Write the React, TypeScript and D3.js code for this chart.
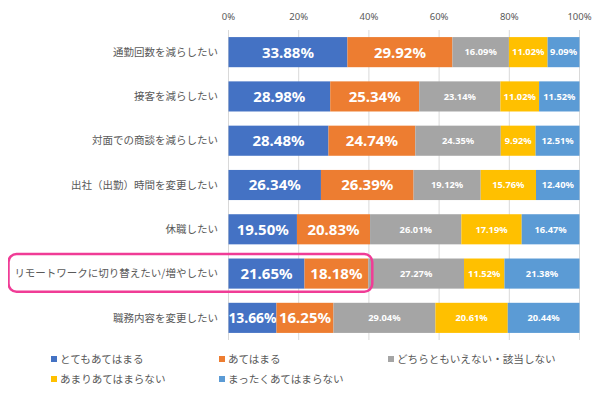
import { useEffect, useRef } from "react";
import * as d3 from "d3";

// categories (top to bottom)
const categories = [
  "通勤回数を減らしたい",
  "接客を減らしたい",
  "対面での商談を減らしたい",
  "出社（出勤）時間を変更したい",
  "休職したい",
  "リモートワークに切り替えたい/増やしたい",
  "職務内容を変更したい",
];

// series names (legend order)
const seriesNames = [
  "とてもあてはまる",
  "あてはまる",
  "どちらともいえない・該当しない",
  "あまりあてはまらない",
  "まったくあてはまらない",
];

// values per series, one per category (%)
const veryTrue = [33.88, 28.98, 28.48, 26.34, 19.5, 21.65, 13.66];
const somewhatTrue = [29.92, 25.34, 24.74, 26.39, 20.83, 18.18, 16.25];
const neither = [16.09, 23.14, 24.35, 19.12, 26.01, 27.27, 29.04];
const notReally = [11.02, 11.02, 9.92, 15.76, 17.19, 11.52, 20.61];
const notAtAll = [9.09, 11.52, 12.51, 12.4, 16.47, 21.38, 20.44];

const tickValues = [0, 20, 40, 60, 80, 100];
const highlighted = "リモートワークに切り替えたい/増やしたい";

const colors = ["#4472C4", "#ED7D31", "#A5A5A5", "#FFC000", "#5B9BD5"];
const FONT = "'Noto Sans', 'Noto Sans CJK JP', sans-serif";
const JP_FONT = "'Noto Sans CJK JP', 'Noto Sans', sans-serif";

export default function App() {
  const ref = useRef<SVGSVGElement | null>(null);

  useEffect(() => {
    if (!ref.current) return;
    const svg = d3.select(ref.current);
    svg.selectAll("*").remove();

    const W = 600;
    const H = 395;
    const x0 = 228.5;
    const x1 = 579.5;
    const yTop = 30;
    const yBottom = 340;

    const series = [veryTrue, somewhatTrue, neither, notReally, notAtAll];
    const rows = categories.map((c, i) => {
      const r: Record<string, any> = { cat: c };
      seriesNames.forEach((s, j) => (r[s] = series[j][i]));
      return r;
    });
    const stacked = d3.stack<any>().keys(seriesNames)(rows);

    const x = d3.scaleLinear().domain([0, 100]).range([x0, x1]);
    const y = d3
      .scaleBand<string>()
      .domain(categories)
      .range([yTop, yBottom])
      .paddingInner(0.32)
      .paddingOuter(0.16);

    svg.append("rect").attr("width", W).attr("height", H).attr("fill", "#fff");

    // gridlines
    svg
      .append("g")
      .selectAll("line")
      .data(tickValues)
      .join("line")
      .attr("x1", (d) => x(d))
      .attr("x2", (d) => x(d))
      .attr("y1", yTop)
      .attr("y2", yBottom)
      .attr("stroke", "#d9d9d9")
      .attr("stroke-width", 1);

    // tick labels on top
    svg
      .append("g")
      .selectAll("text")
      .data(tickValues)
      .join("text")
      .attr("x", (d) => x(d))
      .attr("y", 17)
      .attr("dy", "0.35em")
      .attr("text-anchor", "middle")
      .attr("font-family", FONT)
      .attr("font-size", 9.5)
      .attr("fill", "#595959")
      .text((d) => `${d}%`);

    // bars
    const layers = svg
      .append("g")
      .selectAll("g")
      .data(stacked)
      .join("g")
      .attr("fill", (_, i) => colors[i]);

    layers
      .selectAll("rect")
      .data((d) => d)
      .join("rect")
      .attr("x", (d) => x(d[0]))
      .attr("width", (d) => x(d[1]) - x(d[0]))
      .attr("y", (d) => y(d.data.cat)!)
      .attr("height", y.bandwidth());

    // value labels
    stacked.forEach((layer, i) => {
      const big = i < 2;
      svg
        .append("g")
        .selectAll("text")
        .data(layer)
        .join("text")
        .attr("x", (d) => (x(d[0]) + x(d[1])) / 2)
        .attr("y", (d) => y(d.data.cat)! + y.bandwidth() / 2)
        .attr("dy", "0.36em")
        .attr("text-anchor", "middle")
        .attr("font-family", FONT)
        .attr("font-weight", "bold")
        .attr("font-size", (d) => {
          if (!big) return 9.3;
          const w = x(d[1]) - x(d[0]);
          return Math.min(15, w / 3.45);
        })
        .attr("fill", "#fff")
        .text((d) => `${(d[1] - d[0]).toFixed(2)}%`);
    });

    // category labels
    svg
      .append("g")
      .selectAll("text")
      .data(categories)
      .join("text")
      .attr("x", 218)
      .attr("y", (d) => y(d)! + y.bandwidth() / 2)
      .attr("dy", "0.35em")
      .attr("text-anchor", "end")
      .attr("font-family", JP_FONT)
      .attr("font-size", 10.5)
      .attr("fill", "#595959")
      .text((d) => d);

    // highlight box around the remote-work row
    const hi = categories.indexOf(highlighted);
    const hiEnd = veryTrue[hi] + somewhatTrue[hi];
    svg
      .append("rect")
      .attr("x", 8.5)
      .attr("y", y(highlighted)! - 4.5)
      .attr("width", x(hiEnd) + 4 - 8.5)
      .attr("height", y.bandwidth() + 7.5)
      .attr("rx", 8)
      .attr("fill", "none")
      .attr("stroke", "#F03C96")
      .attr("stroke-width", 2.5);

    // legend
    const legendPos = [
      [51, 359],
      [219, 359],
      [388, 359],
      [51, 379],
      [219, 379],
    ];
    const legend = svg
      .append("g")
      .selectAll("g")
      .data(seriesNames)
      .join("g")
      .attr("transform", (_, i) => `translate(${legendPos[i][0]},${legendPos[i][1]})`);
    legend
      .append("rect")
      .attr("x", 0)
      .attr("y", -3)
      .attr("width", 6)
      .attr("height", 6)
      .attr("fill", (_, i) => colors[i]);
    legend
      .append("text")
      .attr("x", 9)
      .attr("dy", "0.35em")
      .attr("font-family", JP_FONT)
      .attr("font-size", 10.6)
      .attr("fill", "#595959")
      .text((d) => d);
  }, []);

  return <svg ref={ref} width={600} height={395} style={{ display: "block", margin: "-8px" }} />;
}
